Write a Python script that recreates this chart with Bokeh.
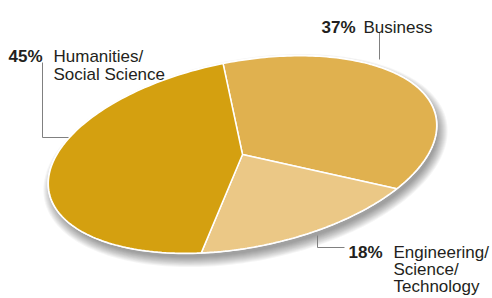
import numpy as np
from bokeh.plotting import figure
from bokeh.models import Range1d
from bokeh.core.properties import value
from bokeh.embed import file_html
from bokeh.resources import INLINE

# ---- data ----
categories = ["Business", "Engineering/Science/Technology", "Humanities/Social Science"]
label_lines = [["Business"], ["Engineering/", "Science/", "Technology"], ["Humanities/", "Social Science"]]
shares = [37, 18, 45]
colors = ["#E0B14F", "#EBC886", "#D4A010"]

# ---- layout ----
W, H = 492, 298
p = figure(width=W, height=H, x_range=Range1d(0, W), y_range=Range1d(H, 0),
           output_backend="svg", toolbar_location=None, min_border=0,
           x_axis_location=None, y_axis_location=None)
p.grid.visible = False
p.outline_line_color = None
p.background_fill_color = "white"
p.border_fill_color = "white"

cx, cy = 242.0, 154.0
A, B = 197.0, 93.0
th = np.radians(11)


def ell(t, a=A, b=B, ox=0.0, oy=0.0):
    mx = a * np.cos(t) * np.cos(th) - b * np.sin(t) * np.sin(th)
    my = a * np.cos(t) * np.sin(th) + b * np.sin(t) * np.cos(th)
    return cx + ox + mx, cy + oy - my


# soft shadow
tt = np.linspace(0, 2 * np.pi, 240)
for d in np.arange(-2, 9, 1.0):
    sx, sy = ell(tt, A + d, B + d, 3, 6)
    p.patch(list(sx), list(sy), fill_color="black", fill_alpha=0.04, line_color=None)

# rim
rx, ry = ell(tt, A + 1, B + 1)
p.patch(list(rx), list(ry), fill_color="white", line_color=None)

# slices
start = np.radians(90.5)
xs, ys = [], []
for s in shares:
    end = start - s / 100 * 2 * np.pi
    t = np.linspace(start, end, 120)
    ex, ey = ell(t)
    xs.append([cx] + list(ex))
    ys.append([cy] + list(ey))
    start = end
p.patches(xs, ys, fill_color=colors, line_color="white", line_width=1.5)

# leader lines
lead_x = [[379, 379], [317, 317, 344], [42, 42, 68]]
lead_y = [[32, 59], [235, 247, 247], [62, 137, 137]]
p.multi_line(lead_x, lead_y, line_color="#808080", line_width=1)

# labels
pct_pos = [(321, 27), (348, 252), (8, 56)]
text_pos = [(363, 27), (393, 252), (53, 56)]
line_gap = [18, 17, 18]
sizes = ["17px", "17px", "17px"]
font = value("Liberation Sans")
for i, s in enumerate(shares):
    p.text([pct_pos[i][0]], [pct_pos[i][1]], text=[f"{s}%"], text_font=font,
           text_font_size=sizes[i], text_font_style="bold", text_color="#231F20",
           text_baseline="alphabetic", text_align="left")
    lines = label_lines[i]
    p.text([text_pos[i][0]] * len(lines),
           [text_pos[i][1] + j * line_gap[i] for j in range(len(lines))],
           text=lines, text_font=font, text_font_size=sizes[i], text_color="#231F20",
           text_baseline="alphabetic", text_align="left")

open("out.html", "w").write(file_html(p, INLINE))
